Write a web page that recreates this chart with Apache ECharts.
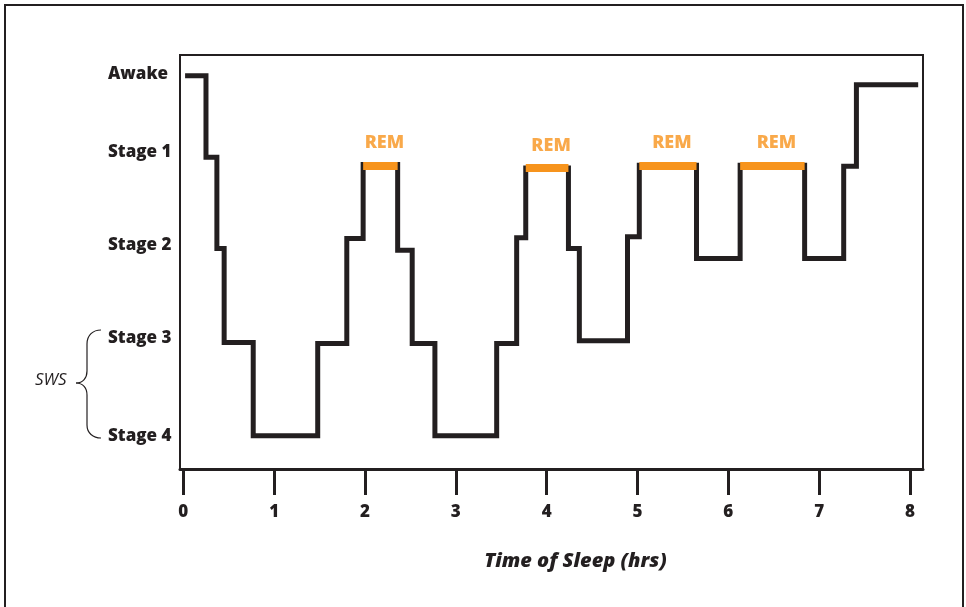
<!DOCTYPE html>
<html><head><meta charset="utf-8">
<script src="https://cdn.jsdelivr.net/npm/echarts@6/dist/echarts.min.js"></script>
<style>html,body{margin:0;padding:0;background:#fff}#c{width:966px;height:607px}</style>
</head><body><div id="c"></div>
<script>
// Y axis: stage names and their (hand-placed) positions on the depth scale
const stageNames = ['Stage 4', 'Stage 3', 'Stage 2', 'Stage 1', 'Awake'];
const stageLabelValues = [0, 1.08, 2.11, 3.14, 4];
// X axis ticks (hours)
const xTickValues = [0, 1, 2, 3, 4, 5, 6, 7, 8];
// Hypnogram: time (hrs) at which each level starts, and the level held
const times  = [0.02, 0.25, 0.37, 0.45, 0.77, 1.48, 1.80, 1.98, 2.36, 2.52, 2.77, 3.45, 3.67, 3.77, 4.24, 4.36, 4.89, 5.02, 5.65, 6.13, 6.84, 7.27, 7.41, 8.09];
const levels = [3.98, 3.08, 2.07, 1.03, 0.00, 1.02, 2.18, 3.00, 2.05, 1.02, 0.00, 1.02, 2.19, 2.96, 2.07, 1.05, 2.20, 2.99, 1.96, 2.99, 1.96, 2.98, 3.88, 3.88];
// REM periods
const remStart = [1.98, 3.77, 5.02, 6.13];
const remEnd   = [2.36, 4.24, 5.65, 6.84];
const remLevel = [2.99, 2.96, 2.99, 2.99];
const remText = 'REM';

const INK = '#231f20';
const ORANGE = '#f7941d';
const FONT = '"Open Sans", "Noto Sans", sans-serif';
const HEAVY = 800;

const sleepData = times.map((t, i) => [t, levels[i]]);
const remLines = remStart.map((s, i) => ({ coords: [[s, remLevel[i]], [remEnd[i], remLevel[i]]] }));
const remCenters = remStart.map((s, i) => [(s + remEnd[i]) / 2, remLevel[i]]);

const braceStyle = { fill: 'none', stroke: INK, lineWidth: 1.2 };
const bez = (x1, y1, c1x, c1y, c2x, c2y, x2, y2) => ({ type: 'bezierCurve', silent: true, style: braceStyle,
  shape: { x1: x1, y1: y1, cpx1: c1x, cpy1: c1y, cpx2: c2x, cpy2: c2y, x2: x2, y2: y2 } });
const seg = (x1, y1, x2, y2) => ({ type: 'line', silent: true, style: braceStyle, shape: { x1: x1, y1: y1, x2: x2, y2: y2 } });

const chart = echarts.init(document.getElementById('c'));
chart.setOption({
  backgroundColor: '#fff',
  animation: false,
  grid: { left: 180, right: 43, top: 55, bottom: 138, show: true, borderColor: INK, borderWidth: 2, backgroundColor: 'transparent' },
  xAxis: {
    type: 'value', min: -0.036, max: 8.143,
    splitLine: { show: false },
    axisLine: { show: true, onZero: false, lineStyle: { color: INK, width: 3 } },
    axisTick: { show: true, customValues: xTickValues, length: 26, lineStyle: { color: INK, width: 3 } },
    axisLabel: { customValues: xTickValues, margin: 35, color: INK, fontFamily: FONT, fontWeight: HEAVY, fontSize: 17 },
    name: 'Time of Sleep (hrs)', nameLocation: 'middle', nameGap: 82,
    nameTextStyle: { color: INK, fontFamily: FONT, fontWeight: HEAVY, fontStyle: 'italic', fontSize: 20, padding: [0, 0, 0, 48] }
  },
  yAxis: {
    type: 'value', min: -0.368, max: 4.21,
    splitLine: { show: false },
    axisLine: { show: false },
    axisTick: { show: false },
    axisLabel: {
      customValues: stageLabelValues, margin: 72, align: 'left', color: INK, fontFamily: FONT, fontWeight: HEAVY, fontSize: 17,
      formatter: v => stageNames[stageLabelValues.indexOf(v)]
    }
  },
  series: [
    {
      type: 'line', step: 'end', data: sleepData, symbol: 'none', z: 2,
      lineStyle: { color: INK, width: 5, join: 'miter', cap: 'butt' }
    },
    {
      type: 'lines', coordinateSystem: 'cartesian2d', data: remLines, z: 3,
      lineStyle: { color: ORANGE, width: 8, opacity: 1, cap: 'butt' }
    },
    {
      type: 'scatter', data: remCenters, symbolSize: 0, z: 4,
      label: { show: true, formatter: remText, position: 'inside', offset: [4, -22], color: ORANGE, fontFamily: FONT, fontWeight: HEAVY, fontSize: 18 }
    }
  ],
  graphic: [
    { type: 'rect', shape: { x: 5, y: 5, width: 958, height: 620 }, style: { fill: 'none', stroke: INK, lineWidth: 2 }, silent: true },
    bez(101, 330, 93, 330, 87, 335, 87, 344),
    seg(87, 344, 87, 371),
    bez(87, 371, 87, 378, 83, 383, 76, 383),
    bez(76, 383, 83, 383, 87, 388, 87, 395),
    seg(87, 395, 87, 425),
    bez(87, 425, 87, 433, 93, 438, 101, 438),
    { type: 'text', left: 35, top: 372, style: { text: 'SWS', fill: INK, font: 'italic 17px "Open Sans", sans-serif' }, silent: true }
  ]
});
</script>
</body></html>
